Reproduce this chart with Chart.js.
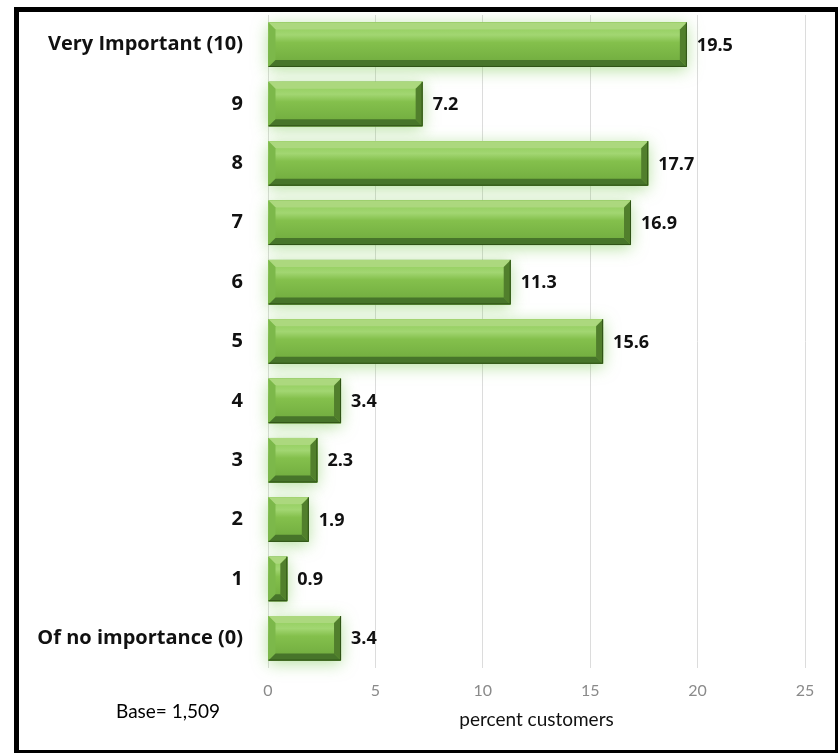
<!DOCTYPE html>
<html>
<head>
<meta charset="utf-8">
<script src="https://cdn.jsdelivr.net/npm/chart.js@4.4.1/dist/chart.umd.min.js"></script>
<style>
  html, body { margin: 0; padding: 0; background: #fff; overflow: hidden; }
  #wrap { position: relative; width: 839px; height: 753px; overflow: hidden; }
  #frame { position: absolute; left: 14px; top: 7px; width: 816px; height: 738px;
           border-left: 5px solid #000; border-top: 5px solid #000;
           border-right: 3px solid #000; border-bottom: 3px solid #000; pointer-events: none; }
  #base { position: absolute; left: 116px; top: 699px; font: 19px Lato, sans-serif; color: #000; }
  canvas { position: absolute; left: 0; top: 0; }
</style>
</head>
<body>
<div id="wrap">
  <canvas id="c" width="839" height="753"></canvas>
  <div id="base">Base= 1,509</div>
  <div id="frame"></div>
</div>
<script>
const categories = ["Very Important (10)", "9", "8", "7", "6", "5", "4", "3", "2", "1", "Of no importance (0)"];
const values = [19.5, 7.2, 17.7, 16.9, 11.3, 15.6, 3.4, 2.3, 1.9, 0.9, 3.4];
const xTicks = [0, 5, 10, 15, 20, 25];
const xTitle = "percent customers";

function barBox(el) {
  const h = el.height;
  return { l: Math.min(el.base, el.x), r: Math.max(el.base, el.x), t: el.y - h / 2, b: el.y + h / 2 };
}

const bevelPlugin = {
  id: 'bevel',
  beforeDatasetsDraw(chart) {
    const ctx = chart.ctx;
    const meta = chart.getDatasetMeta(0);
    ctx.save();
    meta.data.forEach(el => {
      const k = barBox(el);
      ctx.shadowColor = 'rgba(120,200,80,0.55)';
      ctx.shadowBlur = 16;
      ctx.shadowOffsetY = 3;
      ctx.fillStyle = '#6aa83a';
      ctx.fillRect(k.l, k.t, k.r - k.l, k.b - k.t);
    });
    ctx.restore();
  },
  afterDatasetsDraw(chart) {
    const ctx = chart.ctx;
    const meta = chart.getDatasetMeta(0);
    ctx.save();
    meta.data.forEach((el, i) => {
      const k = barBox(el);
      const w = k.r - k.l, h = k.b - k.t;
      const bv = Math.min(7, w / 2);
      const g = ctx.createLinearGradient(0, k.t, 0, k.b);
      g.addColorStop(0, '#8ccb54');
      g.addColorStop(0.28, '#a2d672');
      g.addColorStop(0.45, '#84c04c');
      g.addColorStop(1, '#6ea93d');
      ctx.fillStyle = g;
      ctx.fillRect(k.l, k.t, w, h);
      ctx.fillStyle = '#acd87e';
      ctx.beginPath();
      ctx.moveTo(k.l, k.t); ctx.lineTo(k.r, k.t); ctx.lineTo(k.r - bv, k.t + bv); ctx.lineTo(k.l + bv, k.t + bv); ctx.closePath(); ctx.fill();
      ctx.fillStyle = '#7cb84a';
      ctx.beginPath();
      ctx.moveTo(k.l, k.t); ctx.lineTo(k.l + bv, k.t + bv); ctx.lineTo(k.l + bv, k.b - bv); ctx.lineTo(k.l, k.b); ctx.closePath(); ctx.fill();
      ctx.fillStyle = '#47752a';
      ctx.beginPath();
      ctx.moveTo(k.l, k.b); ctx.lineTo(k.l + bv, k.b - bv); ctx.lineTo(k.r - bv, k.b - bv); ctx.lineTo(k.r, k.b); ctx.closePath(); ctx.fill();
      ctx.fillStyle = '#517f2c';
      ctx.beginPath();
      ctx.moveTo(k.r, k.t); ctx.lineTo(k.r, k.b); ctx.lineTo(k.r - bv, k.b - bv); ctx.lineTo(k.r - bv, k.t + bv); ctx.closePath(); ctx.fill();
      ctx.strokeStyle = '#2f5216';
      ctx.lineWidth = 1;
      ctx.beginPath();
      ctx.moveTo(k.l, k.b - 0.5); ctx.lineTo(k.r - 0.5, k.b - 0.5); ctx.lineTo(k.r - 0.5, k.t);
      ctx.stroke();
      ctx.fillStyle = '#111';
      ctx.font = 'bold 18px "Open Sans", sans-serif';
      ctx.textAlign = 'left';
      ctx.textBaseline = 'middle';
      ctx.fillText(values[i].toFixed(1), k.r + 10, el.y + 1);
    });
    ctx.restore();
  }
};

new Chart(document.getElementById('c'), {
  type: 'bar',
  data: {
    labels: categories,
    datasets: [{
      data: values,
      backgroundColor: '#7ab846',
      borderWidth: 0,
      categoryPercentage: 0.75,
      barPercentage: 1.0
    }]
  },
  options: {
    indexAxis: 'y',
    responsive: false,
    animation: false,
    devicePixelRatio: 1,
    layout: { padding: { left: 0, right: 34, top: 15, bottom: 18 } },
    plugins: { legend: { display: false }, tooltip: { enabled: false } },
    scales: {
      x: {
        min: 0, max: 25,
        afterBuildTicks: s => { s.ticks = xTicks.map(v => ({ value: v })); },
        afterFit: s => { s.height = 67; s.paddingLeft = 0; s.paddingRight = 0; },
        grid: { color: '#dcdcdc', drawTicks: false },
        border: { display: false },
        ticks: { color: '#8a8a8a', font: { family: 'Lato', size: 16 }, padding: 13 },
        title: { display: true, text: xTitle, color: '#111', font: { family: 'Lato', size: 19 }, padding: { top: 0 } }
      },
      y: {
        afterFit: s => { s.width = 268; s.paddingTop = 0; s.paddingBottom = 0; },
        grid: { display: false },
        border: { display: false },
        ticks: { color: '#111', font: { family: 'Open Sans', size: 20, weight: 'bold' }, padding: 17 }
      }
    }
  },
  plugins: [bevelPlugin]
});
</script>
</body>
</html>
